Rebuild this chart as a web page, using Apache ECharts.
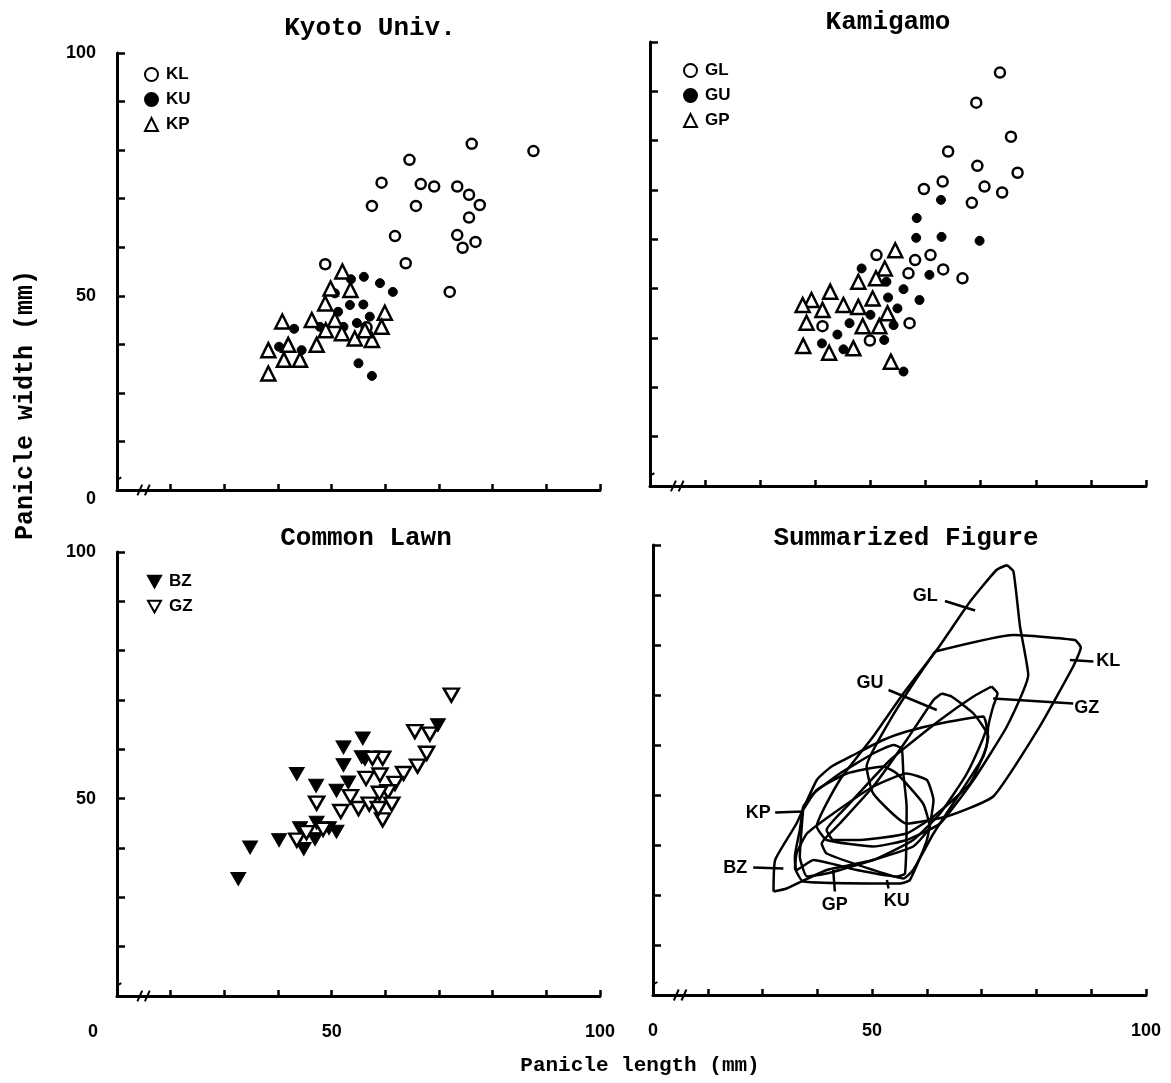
<!DOCTYPE html>
<html>
<head>
<meta charset="utf-8">
<script src="https://cdn.jsdelivr.net/npm/echarts@6/dist/echarts.min.js"></script>
<style>
  html, body { margin: 0; padding: 0; background: #fff; }
  #chart { width: 1171px; height: 1083px; }
</style>
</head>
<body>
<div id="chart"></div>
<script>
// ---- data: [panicle length, panicle width] in mm ----
var KL = [[76.1,81.3],[87.6,79.8],[64.5,78.0],[59.3,73.3],[66.6,73.0],[69.1,72.5],[73.4,72.5],[75.6,70.8],[77.6,68.7],[57.5,68.5],[65.7,68.5],[75.6,66.1],[61.8,62.3],[73.4,62.5],[76.8,61.1],[74.4,59.9],[63.8,56.7],[48.8,56.5],[72.0,50.8],[56.5,43.5]];
var KU = [[56.0,53.9],[59.0,52.6],[61.4,50.8],[53.6,53.4],[53.4,48.1],[55.9,48.2],[57.1,45.7],[54.7,44.4],[51.2,46.7],[52.2,43.6],[55.0,36.1],[57.5,33.5],[50.6,50.5],[43.0,43.2],[40.2,39.5],[44.4,38.8],[47.8,43.6]];
var KP = [[52.0,55.0],[49.8,51.5],[53.5,51.2],[48.8,48.4],[40.8,44.7],[46.3,45.0],[50.6,45.0],[59.9,46.5],[59.3,43.6],[48.9,42.9],[51.9,42.3],[54.3,41.2],[57.5,40.9],[47.2,39.9],[38.2,38.8],[41.9,39.9],[41.1,36.8],[44.1,36.8],[38.2,34.0],[56.2,42.9]];

var GL = [[73.5,93.8],[69.2,87.7],[75.5,80.8],[64.1,77.8],[69.4,74.9],[76.7,73.5],[63.1,71.7],[59.7,70.2],[70.7,70.7],[73.9,69.5],[68.4,67.4],[51.1,56.8],[58.1,55.8],[60.9,56.8],[56.9,53.1],[63.2,53.9],[66.7,52.1],[57.1,43.0],[41.3,42.4],[49.9,39.5]];
var GU = [[62.8,68.0],[58.4,64.3],[58.3,60.3],[62.9,60.5],[69.8,59.7],[48.4,54.1],[52.9,51.4],[60.7,52.8],[56.0,49.9],[58.9,47.7],[53.2,48.2],[54.9,46.0],[50.0,44.7],[46.2,43.0],[54.2,42.6],[44.0,40.7],[41.2,38.9],[52.5,39.6],[45.1,37.7],[56.0,33.2]];
var GP = [[54.5,57.8],[52.6,54.1],[51.0,52.1],[47.8,51.4],[42.7,49.4],[39.3,47.7],[37.7,46.7],[45.1,46.7],[47.8,46.3],[50.4,48.0],[41.3,45.7],[53.1,45.0],[38.4,43.1],[48.6,42.4],[51.6,42.4],[37.8,38.4],[42.5,37.0],[46.9,37.9],[53.7,35.2]];

var BZ = [[32.6,33.7],[34.8,40.1],[40.2,41.6],[43.5,55.0],[47.1,52.6],[52.2,60.4],[55.8,62.2],[52.2,56.8],[55.6,58.4],[53.1,53.3],[50.9,51.6],[44.1,44.0],[47.2,45.1],[49.5,44.0],[50.9,43.3],[44.8,39.8],[46.9,41.8],[69.8,64.9],[56.2,58.0]];
var GZ = [[72.3,71.0],[65.5,63.6],[68.3,63.1],[67.7,59.2],[66.0,56.6],[63.4,55.1],[59.5,58.2],[57.6,58.2],[59.0,54.8],[56.4,54.1],[61.8,53.1],[60.5,51.4],[58.9,51.1],[53.5,50.4],[47.2,49.1],[51.7,47.4],[55.0,48.0],[57.0,48.9],[61.2,48.9],[59.5,45.7],[58.7,48.0],[43.5,41.6],[45.3,43.1],[48.4,43.8]];

// summarized figure: outlines of each group
var outlineGL = [[74.6,96.0],[75.8,94.7],[77.0,83.7],[78.5,74.0],[74.6,63.7],[68.5,53.0],[62.4,44.3],[56.3,41.0],[50.2,39.7],[41.7,41.0],[39.9,43.7],[44.1,53.0],[50.2,61.7],[55.7,70.3],[61.8,79.0],[67.9,88.7],[72.7,95.0],[74.6,96.0]];
var outlineKL = [[61.5,78.7],[75.8,82.0],[87.0,81.0],[88.1,79.5],[86.7,75.7],[80.6,63.7],[72.1,49.7],[63.6,45.7],[56.3,44.3],[50.2,50.3],[49.0,55.7],[53.3,65.0],[57.5,72.3],[61.5,78.7]];
var outlineGU = [[62.7,70.3],[64.5,69.7],[68.5,66.3],[71.2,61.7],[70.3,57.7],[66.0,50.3],[61.2,42.3],[57.5,35.0],[55.7,33.3],[50.2,35.0],[41.7,38.3],[40.8,40.3],[44.1,44.3],[50.2,51.7],[56.3,61.0],[61.2,69.0],[62.7,70.3]];
var outlineGZ = [[71.8,71.7],[72.9,70.3],[72.1,67.7],[71.2,63.7],[70.9,59.7],[67.9,52.3],[61.2,45.7],[56.3,42.3],[47.8,41.0],[42.9,41.0],[41.7,43.0],[45.4,47.7],[53.3,57.0],[62.4,65.0],[68.5,69.7],[71.8,71.7]];
var outlineBZ = [[32.0,30.7],[32.3,37.0],[36.2,44.3],[39.9,53.0],[42.6,55.7],[46.6,58.0],[52.0,61.0],[56.3,62.7],[62.4,64.3],[70.3,65.7],[70.9,63.7],[67.3,54.3],[62.4,46.3],[57.5,41.0],[50.2,37.0],[41.7,35.0],[34.4,31.3],[32.0,30.7]];
var outlineGP = [[37.4,47.7],[39.3,50.3],[44.1,54.3],[50.2,58.3],[53.9,60.0],[55.4,59.3],[55.7,54.3],[56.3,47.7],[56.0,34.3],[54.5,33.7],[47.2,35.0],[39.3,37.0],[36.2,35.0],[35.9,37.7],[36.8,43.0],[37.4,47.7]];
var outlineKP = [[37.4,47.0],[39.9,51.0],[45.4,54.3],[52.0,55.7],[54.5,54.3],[59.3,48.3],[60.5,43.7],[57.5,39.7],[50.2,37.0],[41.7,34.3],[38.1,33.7],[36.8,37.7],[37.4,47.0]];
var outlineKU = [[35.9,35.3],[37.4,32.7],[55.1,32.3],[56.9,33.0],[60.0,41.0],[61.2,49.0],[60.0,53.0],[56.3,54.3],[50.2,51.7],[42.9,46.3],[38.1,42.3],[36.2,38.3],[35.9,35.3]];

// label name, label position, leader line start, leader line end
var summaryLabels = ['GL', 'KL', 'GU', 'GZ', 'KP', 'BZ', 'GP', 'KU'];
var summaryLabelPos = [[59.7,89.7],[93.1,76.7],[49.6,72.3],[89.2,67.3],[29.2,46.3],[25.0,35.3],[43.2,28.0],[54.5,28.7]];
var summaryLeaders = [
  [[63.3,88.8],[68.8,86.9]],
  [[86.1,77.0],[90.4,76.7]],
  [[53.0,71.0],[61.8,67.0]],
  [[72.1,69.3],[86.7,68.3]],
  [[32.3,46.5],[37.4,46.7]],
  [[28.3,35.5],[33.8,35.3]],
  [[43.2,30.7],[42.9,35.0]],
  [[53.0,31.3],[52.7,33.0]]
];

var panelTitles = ['Kyoto Univ.', 'Kamigamo', 'Common Lawn', 'Summarized Figure'];
var axisMin = 10, axisMax = 100, axisStep = 10;

// ---- chart ----
var chart = echarts.init(document.getElementById('chart'));

var numFont = 'Liberation Sans';
var monoFont = 'Liberation Mono';

var grids = [
  { left: 117, top: 53, width: 483, height: 437 },
  { left: 650, top: 42, width: 496, height: 444 },
  { left: 117, top: 552, width: 483, height: 444 },
  { left: 653, top: 545, width: 493, height: 450 }
];

function xAxis(gi, showLabels, zeroShift) {
  return {
    gridIndex: gi, type: 'value', min: axisMin, max: axisMax, interval: axisStep,
    axisLine: { lineStyle: { color: '#000', width: 3 } },
    axisTick: { inside: true, length: 6, lineStyle: { color: '#000', width: 2.5 } },
    splitLine: { show: false },
    axisLabel: {
      show: showLabels, margin: 27, color: '#000',
      fontFamily: numFont, fontWeight: 'bold', fontSize: 18,
      showMinLabel: true, showMaxLabel: true,
      formatter: function (v) {
        if (v === 10) return '{z|0}';
        return (v === 50 || v === 100) ? String(v) : '';
      },
      rich: { z: { padding: [0, zeroShift, 0, 0], fontFamily: numFont, fontWeight: 'bold', fontSize: 18, color: '#000' } }
    }
  };
}

function yAxis(gi, showLabels, showZero) {
  return {
    gridIndex: gi, type: 'value', min: axisMin, max: axisMax, interval: axisStep,
    axisLine: { lineStyle: { color: '#000', width: 3 } },
    axisTick: { inside: true, length: 8, lineStyle: { color: '#000', width: 2.5 } },
    splitLine: { show: false },
    axisLabel: {
      show: showLabels, margin: 21, color: '#000',
      fontFamily: numFont, fontWeight: 'bold', fontSize: 18,
      showMinLabel: true, showMaxLabel: true,
      formatter: function (v) {
        if (v === 10) return showZero ? '{z|0}' : '';
        return (v === 50 || v === 100) ? String(v) : '';
      },
      rich: { z: { padding: [18, 0, 0, 0], fontFamily: numFont, fontWeight: 'bold', fontSize: 18, color: '#000' } }
    }
  };
}

var openStyle = { color: '#fff', borderColor: '#000', borderWidth: 2.5, opacity: 1 };
var fillStyle = { color: '#000', borderColor: '#000', borderWidth: 1, opacity: 1 };
var downTri = 'path://M0,0L10,0L5,9Z';

function scatter(name, gi, data, symbol, size, style) {
  return {
    name: name, type: 'scatter', xAxisIndex: gi, yAxisIndex: gi,
    data: data, symbol: symbol, symbolSize: size, itemStyle: style,
    emphasis: { disabled: true }
  };
}

function outline(data) {
  return {
    type: 'line', xAxisIndex: 3, yAxisIndex: 3, data: data,
    showSymbol: false, smooth: 0.15, silent: true,
    lineStyle: { color: '#000', width: 2.5 }
  };
}

function segment(gi, pts, width) {
  return {
    type: 'line', xAxisIndex: gi, yAxisIndex: gi, data: pts,
    showSymbol: false, silent: true, clip: false,
    lineStyle: { color: '#000', width: width }
  };
}

var series = [
  scatter('KL', 0, KL, 'circle', 10, openStyle),
  scatter('KU', 0, KU, 'circle', 9, fillStyle),
  scatter('KP', 0, KP, 'triangle', 14, openStyle),
  scatter('GL', 1, GL, 'circle', 10, openStyle),
  scatter('GU', 1, GU, 'circle', 9, fillStyle),
  scatter('GP', 1, GP, 'triangle', 14, openStyle),
  scatter('BZ', 2, BZ, downTri, [15, 13], fillStyle),
  scatter('GZ', 2, GZ, downTri, [15, 13], openStyle),
  outline(outlineGL), outline(outlineKL), outline(outlineGU), outline(outlineGZ),
  outline(outlineBZ), outline(outlineGP), outline(outlineKP), outline(outlineKU)
];

summaryLeaders.forEach(function (seg) { series.push(segment(3, seg, 2.5)); });

series.push({
  type: 'scatter', xAxisIndex: 3, yAxisIndex: 3, silent: true,
  symbolSize: 1, itemStyle: { color: 'rgba(0,0,0,0)', opacity: 1 },
  data: summaryLabels.map(function (n, i) { return { name: n, value: summaryLabelPos[i] }; }),
  label: {
    show: true, position: 'inside', formatter: '{b}', color: '#000', opacity: 1,
    fontFamily: numFont, fontWeight: 'bold', fontSize: 18
  }
});

// axis break marks near each origin
[0, 1, 2, 3].forEach(function (gi) {
  series.push(segment(gi, [[13.8, 8.9], [14.7, 11.1]], 2));
  series.push(segment(gi, [[15.2, 8.9], [16.1, 11.1]], 2));
  series.push(segment(gi, [[9.2, 11.6], [10.8, 12.6]], 2));
});

function legend(names, left, top) {
  return {
    data: names, orient: 'vertical', left: left, top: top,
    itemWidth: 13, itemHeight: 13, itemGap: 8, selectedMode: false,
    textStyle: { fontFamily: numFont, fontWeight: 'bold', fontSize: 17, color: '#000', padding: [0, 0, 0, 3] }
  };
}

var titleCenters = [[370, 28], [888, 22], [366, 538], [906, 538]];

var graphics = panelTitles.map(function (t, i) {
  return {
    type: 'text', x: titleCenters[i][0], y: titleCenters[i][1],
    style: { text: t, align: 'center', verticalAlign: 'middle', fill: '#000',
      font: 'bold 26px "' + monoFont + '"' }
  };
});
graphics.push({
  type: 'text', x: 640, y: 1066,
  style: { text: 'Panicle length (mm)', align: 'center', verticalAlign: 'middle', fill: '#000',
    font: 'bold 21px "' + monoFont + '"' }
});
graphics.push({
  type: 'text', x: 26, y: 405, rotation: Math.PI / 2,
  style: { text: 'Panicle width (mm)', align: 'center', verticalAlign: 'middle', fill: '#000',
    font: 'bold 25px "' + monoFont + '"' }
});

chart.setOption({
  backgroundColor: '#fff',
  animation: false,
  grid: grids,
  xAxis: [xAxis(0, false, 0), xAxis(1, false, 0), xAxis(2, true, 48), xAxis(3, true, 0)],
  yAxis: [yAxis(0, true, true), yAxis(1, false, false), yAxis(2, true, false), yAxis(3, false, false)],
  legend: [
    legend(['KL', 'KU', 'KP'], 139, 61),
    legend(['GL', 'GU', 'GP'], 678, 57),
    legend(['BZ', 'GZ'], 142, 568)
  ],
  graphic: graphics,
  series: series
});
</script>
</body>
</html>
